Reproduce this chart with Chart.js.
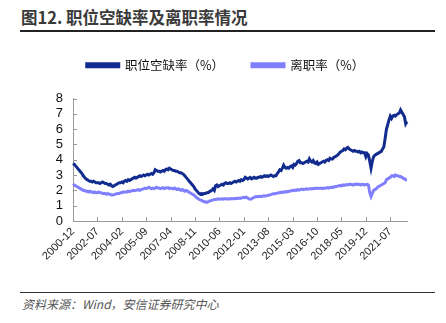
<!DOCTYPE html>
<html>
<head>
<meta charset="utf-8">
<script src="https://cdn.jsdelivr.net/npm/chart.js@4/dist/chart.umd.min.js"></script>
<style>
  html, body { margin: 0; padding: 0; background: #fff; }
  body { width: 446px; height: 323px; position: relative; overflow: hidden;
         font-family: "Noto Sans CJK SC", "Liberation Sans", sans-serif; }
  #title { position: absolute; left: 21px; top: 5px; font-size: 16.5px; font-weight: bold; color: #3a3a3a; }
  #rule1 { position: absolute; left: 20px; top: 30px; width: 415px; height: 2px; background: #222; }
  #rule2 { position: absolute; left: 20px; top: 292px; width: 415px; height: 1px; background: #333; }
  #source { position: absolute; left: 22px; top: 295px; font-size: 12px; font-style: italic; color: #555; }
  #box { position: absolute; left: 0; top: 17px; width: 446px; height: 273px; }
</style>
</head>
<body>
<div id="title">图12. 职位空缺率及离职率情况</div>
<div id="rule1"></div>
<div id="box"><canvas id="chart"></canvas></div>
<div id="rule2"></div>
<div id="source">资料来源：Wind，安信证券研究中心</div>

<script>
// ===== data (monthly, 2000-12 .. 2022-08) =====
const startYear = 2000, startMonth = 12, monthCount = 261;
const tickStep = 19;

// 职位空缺率 (%)
const openings = [
  3.75,
  3.7, 3.6, 3.5, 3.4, 3.3, 3.2, 3.1, 2.95, 2.85, 2.75, 2.7, 2.65,
  2.6, 2.6, 2.55, 2.6, 2.55, 2.5, 2.5, 2.5, 2.45, 2.5, 2.55, 2.5,
  2.45, 2.45, 2.4, 2.35, 2.4, 2.3, 2.25, 2.3, 2.35, 2.4, 2.45, 2.5,
  2.5, 2.55, 2.5, 2.6, 2.65, 2.6, 2.7, 2.65, 2.7, 2.75, 2.8, 2.85,
  2.8, 2.85, 2.9, 2.95, 2.9, 2.95, 3.0, 2.95, 3.0, 3.05, 3.0, 3.05,
  3.1, 3.05, 3.15, 3.35, 3.3, 3.25, 3.25, 3.2, 3.25, 3.3, 3.25, 3.35,
  3.4, 3.35, 3.45, 3.4, 3.35, 3.3, 3.3, 3.25, 3.25, 3.2, 3.15, 3.15,
  3.1, 3.05, 2.95, 2.85, 2.75, 2.65, 2.55, 2.45, 2.35, 2.25, 2.1, 2.0,
  1.9, 1.8, 1.75, 1.8, 1.75, 1.8, 1.8, 1.85, 1.85, 1.9, 1.95, 2.0,
  2.1, 2.0, 2.3, 2.35, 2.25, 2.3, 2.35, 2.4, 2.35, 2.45, 2.5, 2.45,
  2.45, 2.5, 2.45, 2.5, 2.55, 2.6, 2.55, 2.6, 2.65, 2.6, 2.7, 2.65,
  2.7, 2.85, 2.8, 2.75, 2.8, 2.85, 2.75, 2.8, 2.85, 2.8, 2.8, 2.85,
  2.85, 2.9, 2.85, 2.9, 2.95, 2.9, 2.95, 2.9, 2.95, 3.0, 2.95, 2.9,
  2.95, 2.95, 3.1, 3.2, 3.35, 3.3, 3.45, 3.65, 3.5, 3.45, 3.5, 3.45,
  3.55, 3.6, 3.5, 3.7, 3.65, 3.75, 3.9, 3.95, 3.8, 3.8, 3.75, 3.8,
  3.85, 3.9, 3.85, 4.05, 3.9, 3.85, 3.95, 3.8, 3.75, 3.85, 3.7, 3.75,
  3.8, 3.85, 3.9, 3.85, 3.95, 4.0, 3.95, 4.1, 4.05, 4.05, 4.15, 4.2,
  4.25, 4.3, 4.4, 4.5, 4.55, 4.6, 4.7, 4.65, 4.75, 4.8, 4.7, 4.65,
  4.6, 4.55, 4.6, 4.55, 4.55, 4.5, 4.55, 4.45, 4.5, 4.45, 4.45, 4.2,
  4.4, 4.3, 3.9, 3.45, 3.9, 4.2, 4.3, 4.35, 4.4, 4.45, 4.5, 4.55,
  4.7, 4.85, 5.4, 6.0, 6.3, 6.6, 6.85, 6.7, 6.85, 6.9, 6.85, 6.95,
  7.0, 7.05, 7.25, 7.1, 6.95, 6.8, 6.35, 6.5
];

// 离职率 (%)
const quits = [
  2.3,
  2.35, 2.3, 2.25, 2.2, 2.15, 2.1, 2.05, 2.0, 2.0, 1.95, 1.95, 1.9,
  1.95, 1.9, 1.9, 1.85, 1.9, 1.85, 1.85, 1.9, 1.85, 1.85, 1.8, 1.8,
  1.8, 1.75, 1.8, 1.75, 1.75, 1.7, 1.7, 1.72, 1.75, 1.78, 1.8, 1.8,
  1.85, 1.85, 1.9, 1.88, 1.9, 1.9, 1.95, 1.92, 1.95, 1.98, 2.0, 1.98,
  2.0, 2.02, 2.05, 2.0, 2.05, 2.08, 2.1, 2.15, 2.12, 2.15, 2.2, 2.15,
  2.1, 2.15, 2.12, 2.15, 2.2, 2.15, 2.15, 2.12, 2.15, 2.18, 2.12, 2.15,
  2.15, 2.18, 2.12, 2.15, 2.12, 2.1, 2.15, 2.1, 2.05, 2.1, 2.05, 2.0,
  2.05, 2.0, 1.95, 2.0, 1.95, 1.9, 1.85, 1.8, 1.75, 1.7, 1.62, 1.55,
  1.48, 1.42, 1.38, 1.35, 1.3, 1.25, 1.25, 1.22, 1.25, 1.3, 1.32, 1.35,
  1.38, 1.4, 1.4, 1.42, 1.45, 1.42, 1.43, 1.45, 1.42, 1.45, 1.45, 1.44,
  1.45, 1.44, 1.46, 1.45, 1.47, 1.46, 1.48, 1.47, 1.5, 1.48, 1.5, 1.52,
  1.55, 1.52, 1.55, 1.5, 1.45, 1.42, 1.45, 1.5, 1.55, 1.58, 1.6, 1.58,
  1.6, 1.62, 1.6, 1.64, 1.65, 1.63, 1.66, 1.68, 1.7, 1.72, 1.75, 1.78,
  1.78, 1.8, 1.82, 1.85, 1.85, 1.88, 1.85, 1.9, 1.88, 1.92, 1.9, 1.95,
  1.95, 1.98, 2.0, 1.98, 2.02, 2.0, 2.05, 2.02, 2.05, 2.08, 2.05, 2.08,
  2.08, 2.1, 2.08, 2.1, 2.12, 2.1, 2.12, 2.14, 2.12, 2.15, 2.12, 2.14,
  2.15, 2.12, 2.15, 2.14, 2.15, 2.18, 2.15, 2.2, 2.18, 2.22, 2.2, 2.25,
  2.25, 2.28, 2.3, 2.32, 2.3, 2.35, 2.32, 2.35, 2.38, 2.35, 2.38, 2.4,
  2.38, 2.35, 2.4, 2.38, 2.42, 2.38, 2.4, 2.35, 2.4, 2.38, 2.36, 2.38,
  2.4, 2.35, 1.85, 1.6, 1.8, 2.0, 2.05, 2.1, 2.2, 2.25, 2.3, 2.35,
  2.4, 2.45, 2.5, 2.7, 2.75, 2.8, 2.85, 2.95, 2.95, 2.9, 3.0, 2.95,
  2.95, 2.9, 2.9, 2.85, 2.8, 2.75, 2.7, 2.7
];

const yTicks = [0, 1, 2, 3, 4, 5, 6, 7, 8];

// month labels yyyy-mm
const months = [];
for (let i = 0; i < monthCount; i++) {
  const m0 = startMonth - 1 + i;
  const y = startYear + Math.floor(m0 / 12);
  const m = (m0 % 12) + 1;
  months.push(y + '-' + (m < 10 ? '0' + m : m));
}

// ===== extra room under the legend =====
const legendGap = {
  id: 'legendGap',
  beforeInit(chart) {
    const fit = chart.legend.fit;
    chart.legend.fit = function () {
      fit.bind(chart.legend)();
      this.height += 17;
    };
  }
};

// ===== inward tick marks =====
const innerTicks = {
  id: 'innerTicks',
  afterDraw(chart) {
    const ctx = chart.ctx, a = chart.chartArea;
    const xs = chart.scales.x, ys = chart.scales.y;
    ctx.save();
    ctx.strokeStyle = '#999';
    ctx.lineWidth = 1;
    ctx.beginPath();
    ys.ticks.forEach((t, i) => {
      const y = Math.round(ys.getPixelForTick(i)) + 0.5;
      ctx.moveTo(a.left, y); ctx.lineTo(a.left + 4, y);
    });
    for (let i = 0; i < months.length; i += tickStep) {
      const x = Math.round(xs.getPixelForValue(i)) + 0.5;
      ctx.moveTo(x, a.bottom); ctx.lineTo(x, a.bottom - 4);
    }
    ctx.stroke();
    ctx.restore();
  }
};

function initChart() {
  const ctx = document.getElementById('chart');
  new Chart(ctx, {
    type: 'line',
    data: {
      labels: months,
      datasets: [{
        label: '职位空缺率（%）',
        data: openings,
        borderColor: '#112C8E',
        backgroundColor: '#112C8E',
        borderWidth: 3,
        pointRadius: 0,
        tension: 0,
        fill: false
      }, {
        label: '离职率（%）',
        data: quits,
        borderColor: '#8080FF',
        backgroundColor: '#8080FF',
        borderWidth: 3,
        pointRadius: 0,
        tension: 0,
        fill: false
      }]
    },
    options: {
      responsive: true,
      maintainAspectRatio: false,
      animation: false,
      layout: { padding: { left: 44, right: 39, top: 14, bottom: 0 } },
      plugins: {
        legend: {
          display: true,
          labels: {
            boxWidth: 32,
            boxHeight: 3,
            padding: 28,
            color: '#111',
            font: { family: 'Noto Sans CJK SC', size: 12.5 }
          }
        },
        tooltip: { enabled: false }
      },
      scales: {
        x: {
          type: 'category',
          offset: false,
          grid: { display: false, drawTicks: false },
          border: { color: '#999', width: 1 },
          ticks: {
            autoSkip: false,
            maxRotation: 45,
            minRotation: 45,
            padding: 4,
            color: '#222',
            font: { family: 'Liberation Sans', size: 11 },
            callback: (v, i) => (i % tickStep === 0 ? months[i] : null)
          },
          afterFit: s => { s.height = 69; }
        },
        y: {
          min: 0,
          max: 8,
          afterBuildTicks: s => { s.ticks = yTicks.map(v => ({ value: v })); },
          grid: { display: false, drawTicks: false },
          border: { color: '#999', width: 1 },
          ticks: {
            autoSkip: false,
            padding: 10,
            color: '#111',
            font: { family: 'Liberation Sans', size: 13 }
          },
          afterFit: s => { s.width = 29; }
        }
      }
    },
    plugins: [legendGap, innerTicks]
  });
}

window.onload = initChart;
</script>
</body>
</html>
